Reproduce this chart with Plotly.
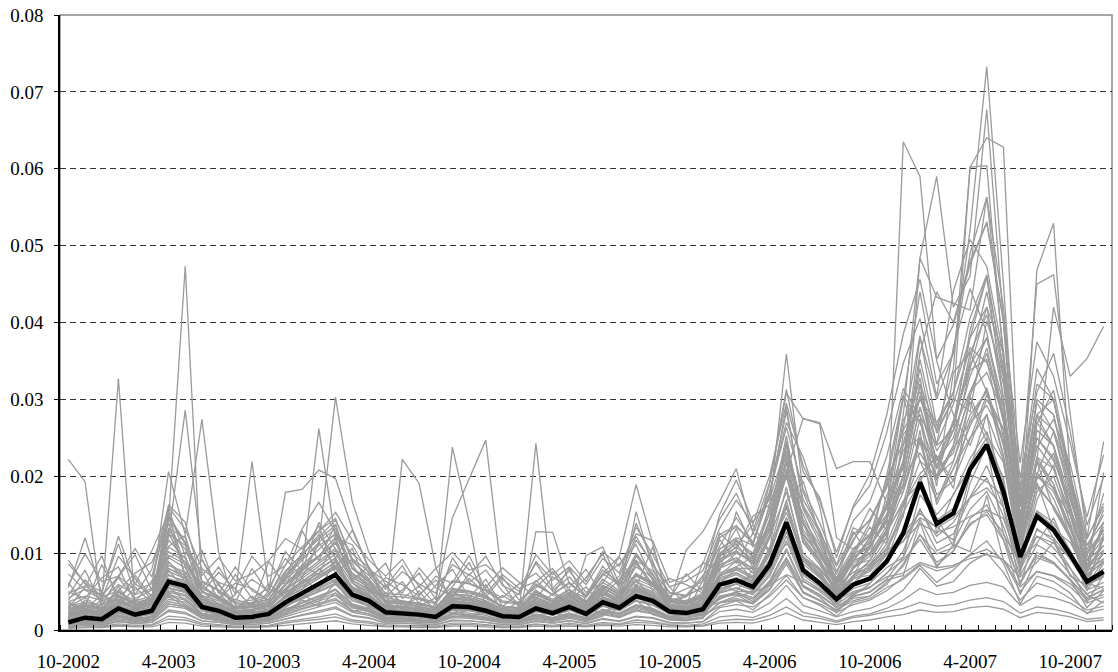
import plotly.graph_objects as go

# Months (categories) from 10-2002 to 12-2007
months = []
for yr in range(2002, 2008):
    for mo in range(1, 13):
        if (yr == 2002 and mo < 10):
            continue
        months.append(f"{mo}-{yr}")
label_months = ["10-2002", "4-2003", "10-2003", "4-2004", "10-2004", "4-2005",
                "10-2005", "4-2006", "10-2006", "4-2007", "10-2007"]

UNIT = 1000.0  # all series values below are given in thousandths

# Mean line (black), in thousandths
mean_line = [1.0, 1.6, 1.4, 2.8, 2.0, 2.5, 6.3, 5.7, 3.0, 2.5,
             1.6, 1.7, 2.1, 3.6, 4.8, 6.0, 7.2, 4.6, 3.8, 2.3,
             2.2, 2.0, 1.7, 3.1, 3.0, 2.5, 1.8, 1.7, 2.8, 2.2,
             3.0, 2.1, 3.6, 2.9, 4.4, 3.8, 2.4, 2.2, 2.7, 5.9,
             6.5, 5.6, 8.5, 14.0, 7.8, 6.1, 4.0, 5.9, 6.7, 8.9,
             12.6, 19.2, 13.8, 15.2, 20.9, 24.1, 18.0, 9.5, 14.8, 13.0,
             9.8, 6.3, 7.6]

# Individual series (gray), in thousandths
gray_01 = [22.2,19.3,3.1,2.4,1.6,2.2,4.8,3.3,1.9,1.4, 1.1,1.3,1.6,2.7,3.2,4.1,5.2,2.9,2.4,1.4, 1.5,1.3,0.9,2.1,1.8,1.6,1.0,1.1,1.9,1.4, 2.2,1.3,2.4,2.1,3.2,2.6,1.4,1.6,2.1,
           4.2,4.6,3.4,5.8,9.3,4.9,3.8,2.6,4.1,4.4,6.2,8.3,12.4,8.8,10.2,14.5,16.3,11.8,6.2,9.7,8.8,6.4,4.1,5.2]
gray_02 = [8.6,6.1,3.6,32.7,2.7,4.1,14.8,8.2,3.2,2.4, 1.5,1.8,2.4,4.5,6.3,7.9,9.4,5.1,4.2,2.2, 2.8,2.3,1.9,3.8,3.5,2.8,2.0,1.8,3.4,2.6, 3.7,2.4,4.3,3.1,5.5,4.6,2.7,2.5,3.3,
           7.4,8.2,6.7,10.4,18.6,9.3,7.5,4.4,7.1,8.3,11.2,16.4,24.8,17.6,19.4,27.3,31.2,22.7,11.3,18.6,16.1,12.4,7.6,9.3]
gray_03 = [3.5,2.9,2.2,4.3,2.6,3.8,14.2,47.3,5.1,3.3, 2.0,2.2,2.6,4.2,5.3,6.8,8.1,5.2,4.4,2.6, 2.4,2.2,1.8,3.4,3.3,2.7,2.1,1.9,3.0,2.4, 3.2,2.3,3.9,3.2,4.8,4.1,2.6,2.4,2.9,
           6,8,7,12,18,10,8,5,8,10,12,63.5,59.0,35,28,24,30,26,8,18,20,14,6,9]
gray_04 = [2.1,3.4,2.6,5.2,3.1,4.0,12.1,28.6,9.2,5.0, 2.4,2.6,3.1,5.3,7.0,8.6,10.3,6.4,5.2,3.1, 2.9,2.7,2.3,4.1,4.0,3.3,2.4,2.2,3.6,2.9, 3.8,2.8,4.6,3.7,5.7,4.8,3.1,2.8,3.5,
           8,10,9,14,24,14,10,6,9,12,16,22,38,30,36,52,73.3,45,14,30,28,18,8,14]
gray_05 = [4.2,5.3,4.6,6.8,4.1,5.2,20.6,12.4,27.4,10.1, 3.2,3.5,4.0,6.6,8.4,10.5,12.6,8.1,6.6,4.2, 3.8,3.5,2.9,5.1,5.0,4.2,3.1,2.9,4.7,3.7, 4.9,3.5,5.8,4.7,7.3,6.2,3.9,3.6,4.4,
           5,6,7,10,16,9,7,4,7,9,13,20,48.4,59.0,42,46,67.7,40,12,26,24,15,6,12]
gray_06 = [1.8,2.3,1.9,3.0,2.4,2.8,7.2,6.1,3.5,2.8, 2.1,2.4,5.1,17.9,18.3,20.8,19.7,13.2,8.1,3.4, 3.0,2.6,2.2,3.8,3.6,3.1,2.3,2.1,3.2,2.7, 3.5,2.5,4.0,3.3,5.0,4.2,2.8,2.6,3.1,
           7,8,8,13,20,12,9,5,8,11,14,24,30,26,34,60.2,64.0,62.8,16,28,30,20,9,13]
gray_07 = [1.2,1.5,1.3,2.2,1.7,2.1,5.4,4.9,2.6,2.1, 1.4,1.5,1.9,3.4,8.1,26.2,11.8,6.2,4.1,2.0, 1.9,1.7,1.5,2.7,2.6,2.2,1.6,1.5,2.5,1.9, 2.6,1.8,3.1,2.5,3.8,3.3,2.1,1.9,2.4,
           4,5,5,9,14,8,6,3.5,6,8,10,16,22,20,24,34,42,30,12,46.8,52.9,20,7,10]
gray_08 = [2.6,3.1,2.8,4.4,3.3,3.9,9.4,8.1,4.5,3.8, 2.5,2.7,3.2,5.4,7.6,11.2,30.3,16.7,10.1,5.8, 3.4,3.0,2.6,4.6,4.5,3.8,2.8,2.6,4.2,3.3, 4.5,3.1,5.4,4.3,6.6,5.7,3.6,3.3,4.0,
           8,9,8,12,21,12,9,6,9,10,13,19,29,21,23,31,36,27,14,22,42,33,35.3,39.5]
gray_09 = [2.9,2.4,3.3,3.9,2.8,3.2,8.8,7.0,4.1,3.0, 4.6,21.9,5.3,4.8,6.2,7.3,8.9,5.6,4.6,2.9, 2.6,2.4,2.0,3.6,3.4,2.9,2.2,2.0,3.3,2.5, 3.4,2.4,4.2,3.4,5.2,4.4,2.8,2.5,3.1,
           6.8,7.5,6.2,9.8,16.2,9.0,7.0,4.6,6.9,7.8,10.4,14.8,26.0,12.5,17.7,21.0,28.1,16.0,8.1,19.2,13.1,11.4,7.3,8.8]
gray_10 = [1.5,1.9,1.6,2.6,2.1,2.4,6.0,5.1,2.9,2.3, 1.6,1.7,2.0,3.5,4.6,5.7,6.9,4.4,3.6,2.2, 22.2,19.1,8.2,3.2,3.0,2.5,1.8,1.7,2.8,2.2, 3.0,2.1,3.6,2.8,4.3,3.7,2.3,2.1,2.6,
           5.7,6.3,5.4,8.2,13.6,7.5,5.9,3.9,5.7,6.5,8.6,12.2,14.6,13.4,11.7,20.2,19.3,17.4,9.2,11.3,14.6,9.5,6.1,5.4]
gray_11 = [0.9,1.2,1.0,1.8,1.4,1.7,4.4,3.9,2.1,1.7, 1.1,1.2,1.5,2.6,3.5,4.3,5.3,3.3,2.7,1.6, 1.6,1.4,3.0,23.8,14.1,2.4,1.3,1.2,2.0,1.6, 2.2,1.5,2.6,2.1,3.2,2.7,1.7,1.6,1.9,
           4.3,4.7,4.0,6.2,10.3,5.7,4.5,2.9,4.3,4.9,6.5,7.1,14.0,8.1,11.1,10.2,17.5,9.1,6.9,8.8,11.5,7.2,4.6,3.5]
gray_12 = [3.1,3.6,3.3,4.9,3.8,4.4,10.2,8.9,5.0,4.2, 2.9,3.1,3.6,5.9,7.3,8.9,10.6,6.8,5.6,3.6, 3.4,3.1,4.2,14.6,19.6,24.7,6.0,2.9,4.6,3.7, 4.8,3.4,5.7,4.6,7.1,6.0,3.8,3.5,4.3,
           9.2,10.3,8.8,13.5,22.4,12.6,9.8,6.4,9.5,10.8,14.2,27.3,31.0,24.2,29.4,36.7,34.8,29.0,11.3,27.8,23.9,15.8,10.1,12.2]
gray_13 = [2.2,2.6,2.3,3.5,2.8,3.2,7.6,6.7,3.8,3.1, 2.2,2.3,2.7,4.4,5.7,7.0,8.3,5.4,4.4,2.7, 2.6,2.4,2.0,3.7,3.5,3.0,2.2,2.4,24.3,5.0, 3.6,2.6,4.3,3.5,5.3,4.5,2.9,2.7,3.3,
           7.1,7.8,6.7,10.2,16.8,9.4,7.3,4.8,7.1,8.1,10.7,15.3,19.4,22.7,18.4,30.4,25.3,21.8,9.5,21.9,15.7,11.9,7.7,9.2]
gray_14 = [1.4,1.7,1.5,2.4,1.9,2.2,5.5,5.0,2.7,2.2, 1.5,1.6,1.9,3.2,4.3,5.3,6.4,4.1,3.4,2.0, 2.0,1.8,1.5,2.8,2.7,2.3,1.7,1.5,12.8,12.7, 6.0,4.4,7.3,9.6,18.9,11.2,3.3,2.0,2.5,
           5.4,6.0,5.1,7.7,12.8,7.1,5.6,3.7,5.4,6.1,8.1,9.5,17.6,14.6,10.9,19.1,24.0,12.4,8.7,15.5,11.9,7.0,5.8,7.0]
gray_15 = [0.7,0.9,0.8,1.3,1.0,1.2,3.1,2.8,1.5,1.2, 0.8,0.9,1.1,1.8,2.4,3.0,3.6,2.3,1.9,1.1, 1.1,1.0,0.9,1.6,1.5,1.3,0.9,0.9,1.4,1.1, 1.5,1.1,1.8,4.5,15.4,8.0,3.5,10.4,12.8,
           16.7,21.0,12.5,18.0,27.0,22.5,16.0,5.0,9.0,12.0,15.0,22.0,34.0,24.0,26.0,36.0,41.0,32.0,14.0,25.0,22.0,17.0,10.0,13.0]
gray_16 = [3.0,4.2,2.8,5.0,3.4,4.1,15.8,9.6,4.0,3.3, 2.2,2.5,3.4,6.8,9.1,11.4,13.2,7.0,5.5,2.9, 3.0,2.7,2.2,4.6,4.2,3.5,2.3,2.1,4.0,3.1, 4.4,3.0,5.5,4.2,9.8,6.5,3.1,2.9,4.0,
           9.8,11.2,8.6,14.4,25.3,13.8,10.2,5.3,9.0,11.6,15.8,21.3,32.0,19.6,24.0,30.5,36.7,27.4,12.0,22.5,19.0,13.2,7.5,11.8]
gray_17 = [1.9,2.6,2.0,3.8,2.9,3.5,14.5,11.2,3.7,2.9, 1.9,2.0,2.6,5.9,8.3,9.6,12.1,6.1,4.7,2.4, 2.5,2.3,1.9,4.0,3.8,3.2,2.0,1.9,3.6,2.7, 3.9,2.6,4.8,3.6,8.8,5.9,2.8,2.6,3.6,
           8.4,9.3,7.4,12.5,22.0,11.4,8.5,4.9,8.0,9.6,12.8,18.0,27.5,16.3,21.0,26.5,31.5,24.2,11.0,20.5,17.1,12.0,6.7,10.1]
gray_18 = [4.8,5.7,4.4,7.0,5.2,6.0,16.3,14.0,6.2,5.1, 3.4,3.6,4.4,8.5,10.8,12.9,14.5,8.9,7.1,4.4, 4.3,4.0,3.4,6.3,6.0,5.1,3.6,3.4,6.0,4.6, 6.2,4.4,7.8,6.1,11.7,8.7,4.8,4.4,5.6,
           12.4,13.6,11.2,17.6,28.4,17.0,13.0,7.6,11.8,14.4,18.6,26.2,38.3,26.5,30.8,40.6,46.2,33.6,16.4,29.6,25.8,17.4,10.4,15.6]
gray_19 = [5.5,12.0,4.8,12.2,6.0,4.5,13.0,10.5,5.6,4.4, 3.0,3.4,4.0,7.2,9.4,11.0,12.4,8.0,6.2,3.8, 3.7,3.5,2.9,5.4,5.1,4.5,3.0,2.8,5.0,4.0, 5.3,3.7,6.6,5.1,9.6,7.3,4.1,3.8,4.8,
           10.5,11.8,9.4,15.2,20.4,14.4,11.0,6.5,10.2,12.3,16.0,22.0,30.4,23.3,26.8,34.5,38.0,29.4,14.5,25.0,22.4,15.6,9.0,13.4]
gray_20 = [0.5,0.8,0.6,1.1,0.8,1.0,2.6,2.3,1.2,1.0, 0.7,0.7,0.9,1.5,2.0,2.5,3.0,1.9,1.6,0.9, 0.9,0.8,0.7,1.3,1.2,1.0,0.7,0.7,1.2,0.9, 1.2,0.9,1.5,1.2,1.8,1.6,1.0,0.9,1.1,
           2.4,2.7,2.3,3.5,5.8,3.2,2.5,1.7,2.4,2.8,3.7,5.2,8.0,5.7,6.3,8.7,10.0,7.5,3.9,6.1,5.4,4.1,2.6,3.1]
gray_21 = [1.1,1.4,1.2,2.0,1.5,1.8,4.6,4.1,2.2,1.8, 1.2,1.3,1.6,2.7,3.6,4.4,5.3,3.4,2.8,1.7, 1.7,1.5,1.3,2.3,2.2,1.9,1.3,1.3,2.1,1.6, 2.2,1.6,2.7,2.2,3.3,2.8,1.8,1.6,2.0,
           4.4,4.9,4.2,6.4,10.6,5.8,4.6,3.0,4.4,5.0,6.6,9.4,14.4,10.3,11.4,15.7,18.0,13.5,7.1,11.1,9.8,7.3,4.7,5.7]
gray_22 = [2.4,2.0,2.7,3.1,2.2,2.6,5.8,5.2,3.0,2.4, 1.7,1.8,2.2,3.7,4.9,6.1,7.4,4.8,3.9,2.4, 2.3,2.1,1.8,3.2,3.1,2.6,1.9,1.8,2.9,2.3, 3.1,2.2,3.7,3.0,4.6,3.9,2.5,2.3,2.8,
           6.1,6.8,5.8,8.8,14.6,8.1,6.3,4.2,6.1,6.9,9.2,13.0,19.9,14.3,15.8,21.6,25.0,18.7,9.8,15.3,13.5,10.1,6.5,7.9]
gray_23 = [0.3,0.4,0.4,0.6,0.5,0.6,1.4,1.3,0.7,0.6, 0.4,0.4,0.5,0.9,1.2,1.4,1.7,1.1,0.9,0.5, 0.5,0.5,0.4,0.7,0.7,0.6,0.4,0.4,0.7,0.5, 0.7,0.5,0.8,0.7,1.0,0.9,0.6,0.5,0.6,
           1.2,1.4,1.3,1.9,3.0,1.8,1.5,1.0,1.6,1.9,2.4,2.8,3.6,3.1,3.3,3.9,4.2,3.7,2.2,3.0,2.7,2.2,1.4,1.6]
gray_24 = [1.7,2.2,1.8,2.9,2.3,2.6,6.3,5.6,3.2,2.6, 1.8,1.9,2.3,3.9,5.0,6.2,7.4,4.9,4.0,2.4, 2.4,2.2,1.9,3.3,3.2,2.7,1.9,1.8,3.0,2.4, 3.2,2.3,3.8,3.1,4.7,4.0,2.6,2.4,2.9,
           3.6,4.4,4.9,5.8,7.2,6.3,5.2,3.8,5.0,5.6,6.9,7.4,8.8,8.1,8.4,9.3,9.8,9.2,5.6,7.6,7.1,6.0,3.9,4.6]
gray_25 = [0.8,1.0,0.9,1.5,1.1,1.3,3.4,3.0,1.6,1.3, 0.9,1.0,1.2,2.0,2.7,3.3,3.9,2.5,2.1,1.2, 1.2,1.1,1.0,1.7,1.7,1.4,1.0,0.9,1.6,1.2, 1.7,1.2,2.0,1.6,2.5,2.1,1.3,1.2,1.5,
           5.2,6.4,7.0,8.6,11.2,9.4,7.8,5.6,7.5,8.6,10.4,11.6,13.8,12.7,13.4,14.8,15.6,14.5,8.4,12.2,11.3,9.4,6.0,7.2]
gray_26 = [2.0,2.5,2.1,3.3,2.6,3.0,7.1,6.4,3.6,3.0, 2.1,2.2,2.6,4.4,5.7,7.0,8.4,5.5,4.5,2.8, 2.7,2.5,2.1,3.7,3.6,3.1,2.2,2.0,3.4,2.7, 3.6,2.6,4.3,3.5,5.3,4.5,2.9,2.7,3.3,
           7.0,8.2,9.5,14.0,20.5,27.5,27.0,21.0,21.9,21.9,16.5,18.0,25.0,20.0,22.0,28.0,31.0,24.0,12.0,20.0,18.0,13.0,8.0,10.0]
gray_27 = [1.6,2.0,1.7,2.7,2.1,2.5,5.9,5.3,3.0,2.4, 1.7,1.8,2.2,3.7,4.8,5.9,7.1,4.6,3.8,2.3, 2.2,2.0,1.8,3.1,3.0,2.6,1.8,1.7,2.9,2.2, 3.0,2.2,3.6,2.9,4.4,3.8,2.4,2.2,2.7,
           9.0,11.5,10.0,16.0,35.9,18.0,12.5,6.0,9.5,11.0,14.5,20.0,30.5,22.0,25.0,33.0,38.0,28.0,13.0,24.0,21.0,15.0,9.0,12.0]
gray_28 = [2.3,2.8,2.4,3.7,2.9,3.4,8.0,7.1,4.0,3.3, 2.3,2.5,2.9,4.9,6.3,7.8,9.3,6.1,5.0,3.1, 3.0,2.7,2.3,4.1,4.0,3.4,2.5,2.3,3.8,3.0, 4.0,2.9,4.8,3.9,5.9,5.0,3.2,3.0,3.6,
           10.5,12.0,11.0,19.0,30.8,27.5,26.8,12.0,10.5,12.5,16.0,30.5,27.0,21.0,26.0,39.0,46.0,34.0,15.0,27.0,24.0,17.0,10.0,13.0]
gray_29 = [1.3,1.6,1.4,2.2,1.8,2.0,4.9,4.4,2.5,2.0, 1.4,1.5,1.8,3.1,4.0,4.9,5.9,3.8,3.1,1.9, 1.8,1.7,1.4,2.6,2.5,2.1,1.5,1.4,2.4,1.9, 2.5,9.7,10.8,6.0,13.9,9.0,2.0,1.8,2.2,
           4.8,5.4,4.6,7.0,11.6,6.4,5.0,3.3,4.8,5.5,7.3,10.3,15.8,11.3,12.5,17.2,19.8,14.8,7.8,12.2,10.7,8.0,5.2,6.2]
gray_30 = [1.0,1.3,1.1,1.8,1.4,1.6,4.0,3.6,2.0,1.6, 1.1,1.2,1.4,2.5,3.2,4.0,4.8,3.1,2.5,1.5, 1.5,1.3,1.2,2.1,2.0,1.7,1.2,1.1,1.9,1.5, 2.0,1.4,2.4,2.0,3.0,2.5,1.6,2.0,6.5,
           15.0,19.5,14.0,17.0,24.0,16.0,12.0,6.0,10.0,14.0,19.0,30.0,44.0,32.0,36.0,49.0,56.3,42.0,18.0,34.0,30.0,20.0,11.0,15.0]
gray_31 = [2.8,3.4,2.9,4.5,3.6,4.1,9.7,8.6,4.9,4.0, 2.8,3.0,3.6,6.0,7.7,9.5,11.3,7.4,6.0,3.7, 3.6,3.3,2.8,5.0,4.8,4.1,3.0,2.8,4.6,3.6, 4.8,3.5,5.8,4.7,7.2,6.1,3.9,3.6,4.4,
           9.6,10.7,9.2,14.0,23.3,13.0,10.2,6.6,9.8,11.3,16.0,28.0,48.4,43.3,42.5,41.6,56.3,36.0,16.0,30.0,28.0,19.0,11.0,14.0]
gray_32 = [1.5,1.8,1.6,2.5,2.0,2.3,5.5,4.9,2.8,2.3, 1.6,1.7,2.0,3.4,4.5,5.5,6.6,4.3,3.5,2.1, 2.1,1.9,1.6,2.9,2.8,2.4,1.7,1.6,2.7,2.1, 2.8,2.0,3.3,2.7,4.1,3.5,2.2,2.0,2.5,
           5.3,6.0,5.2,8.0,13.4,7.4,5.8,3.8,6.0,8.5,12.0,20.0,32.0,26.0,30.0,60.2,60.4,35.0,14.0,26.0,24.0,15.0,8.0,11.0]
gray_33 = [2.5,3.0,2.6,4.0,3.1,3.6,8.4,7.5,4.3,3.5, 2.4,2.6,3.1,5.2,6.7,8.3,9.9,6.5,5.3,3.2, 3.1,2.9,2.4,4.3,4.2,3.6,2.6,2.4,4.0,3.2, 4.2,3.0,5.0,4.1,6.3,5.3,3.4,3.1,3.8,
           8.5,9.4,8.0,12.2,20.4,11.4,8.9,5.8,8.7,10.0,13.5,19.0,29.0,22.0,27.0,35.0,44.0,33.0,18.0,45.0,46.2,28.0,12.0,16.0]
gray_34 = [1.9,2.3,2.0,3.1,2.5,2.8,6.7,6.0,3.4,2.8, 2.0,2.1,2.5,4.2,5.4,6.7,8.0,5.2,4.3,2.6, 2.6,2.4,2.0,3.5,3.4,2.9,2.1,1.9,3.2,2.6, 3.4,2.4,4.0,3.3,5.0,4.3,2.7,2.5,3.1,
           6.6,7.4,6.4,9.8,16.3,9.1,7.1,4.7,7.0,9.0,13.0,22.0,36.0,44.0,40.0,48.0,52.9,40.0,17.0,32.0,30.0,19.0,10.0,13.0]
gray_35 = [3.7,4.4,3.9,5.9,4.6,5.4,12.5,11.0,6.4,5.2, 3.6,3.9,4.6,7.7,9.8,12.1,14.3,9.3,7.6,4.7, 4.6,4.2,3.6,6.4,6.1,5.2,3.8,3.5,5.8,4.6, 6.1,4.4,7.3,5.9,9.0,7.7,4.9,4.5,5.5,
           12.0,13.4,11.4,17.5,29.0,16.2,12.7,8.3,12.4,14.2,18.5,26.0,30.0,27.0,31.0,38.0,42.0,36.0,16.0,28.0,26.0,20.0,12.0,24.5]
gray_36 = [0.4,0.6,0.5,0.8,0.6,0.7,1.8,1.6,0.9,0.7, 0.5,0.5,0.6,1.1,1.4,1.7,2.1,1.3,1.1,0.7, 0.6,0.6,0.5,0.9,0.9,0.7,0.5,0.5,0.8,0.6, 0.9,0.6,1.0,0.8,1.3,1.1,0.7,0.6,0.8,
           1.7,1.9,1.6,2.5,4.1,2.3,1.8,1.2,1.8,2.1,2.8,3.9,5.4,4.6,4.9,5.8,6.2,5.6,3.2,4.5,4.2,3.5,2.2,2.7]
gray_37 = [1.3,1.0,1.5,1.9,1.2,1.6,3.7,3.2,1.9,1.5, 1.0,1.1,1.3,2.3,3.0,3.8,4.5,2.9,2.4,1.5, 1.4,1.3,1.1,2.0,1.9,1.6,1.2,1.1,1.8,1.4, 1.9,1.4,2.3,1.8,2.8,2.4,1.5,1.4,1.7,
           3.6,4.1,3.5,5.4,9.0,5.0,3.9,2.6,3.8,4.4,5.9,8.6,12.4,9.9,10.7,13.6,15.4,12.6,6.0,10.1,8.8,6.6,4.2,5.3]
gray_38 = [0.6,0.8,0.7,1.1,0.9,1.0,2.4,2.1,1.2,1.0, 0.7,0.7,0.9,1.4,1.9,2.3,2.8,1.8,1.5,0.9, 0.9,0.8,0.7,1.2,1.2,1.0,0.7,0.7,1.1,0.9, 1.2,0.8,1.4,1.1,1.7,1.5,0.9,0.9,1.1,
           2.9,3.3,3.0,4.4,6.5,4.2,3.4,2.3,3.3,3.9,5.1,6.8,8.6,7.7,8.2,9.7,10.5,9.1,5.0,7.6,7.0,5.6,3.5,4.3]
gray_39 = [3.3,2.7,3.8,4.6,3.2,3.9,13.2,12.0,5.5,4.2, 2.9,3.2,3.8,7.5,9.9,11.8,13.6,8.0,6.4,3.8, 3.8,3.4,2.9,5.3,5.0,4.3,3.0,2.9,4.9,3.8, 5.2,3.6,6.2,4.9,8.2,6.8,4.0,3.7,4.6,
           10.0,11.6,9.6,15.4,24.2,14.0,10.5,6.8,10.6,12.2,16.5,23.4,25.0,21.4,26.0,31.0,33.5,28.0,13.0,22.5,21.0,15.0,9.0,11.0]
gray_40 = [1.4,1.8,1.5,2.4,1.9,2.2,5.1,4.6,2.6,2.1, 1.5,1.6,1.9,3.2,4.1,5.1,6.1,3.9,3.2,2.0, 1.9,1.8,1.5,2.7,2.6,2.2,1.6,1.5,2.5,2.0, 2.6,1.9,3.1,2.5,3.8,3.2,2.1,1.9,2.3,
           4.9,5.5,4.8,7.3,12.2,6.7,5.3,3.5,7.0,11.0,20.0,30.5,22.0,17.0,21.0,25.0,28.0,22.0,10.0,19.0,16.0,12.0,7.0,9.0]
gray_41 = [2.1,1.7,2.4,2.9,2.0,2.4,8.0,6.8,3.4,2.7, 1.8,2.0,2.4,4.6,6.0,7.4,8.8,5.4,4.3,2.5, 2.5,2.2,1.9,3.4,3.2,2.7,1.9,1.8,3.1,2.4, 3.3,2.3,3.9,3.1,5.6,4.5,2.6,2.4,2.9,
           6.4,7.2,6.0,9.2,14.6,8.6,6.8,4.4,6.6,7.6,9.9,12.5,15.2,13.3,14.6,17.2,18.5,16.0,8.2,13.0,12.0,9.2,5.9,6.9]
gray_42 = [0.9,1.1,1.0,1.6,1.2,1.4,3.4,3.0,1.7,1.4, 1.0,1.0,1.2,2.1,2.8,3.4,4.1,2.6,2.1,1.3, 1.3,1.2,1.0,1.8,1.7,1.5,1.0,1.0,1.6,1.3, 1.7,1.2,2.1,1.7,2.6,2.2,1.4,1.3,1.6,
           3.5,3.9,3.4,5.2,8.6,4.8,3.8,2.5,4.5,6.0,9.0,15.0,25.0,20.0,27.0,38.0,45.9,30.0,10.0,22.0,19.0,12.0,6.0,8.0]
gray_43 = [0.2,0.3,0.3,0.5,0.4,0.4,1.0,0.9,0.5,0.4, 0.3,0.3,0.4,0.6,0.8,1.0,1.2,0.8,0.6,0.4, 0.4,0.3,0.3,0.5,0.5,0.4,0.3,0.3,0.5,0.4, 0.5,0.4,0.6,0.5,0.7,0.6,0.4,0.4,0.5,
           0.9,1.0,0.9,1.4,2.2,1.3,1.0,0.7,1.1,1.3,1.7,2.0,2.6,2.3,2.4,2.9,3.1,2.7,1.6,2.3,2.1,1.7,1.1,1.3]
gray_44 = [2.7,3.2,2.8,4.3,3.4,3.9,10.8,9.4,5.0,4.0, 2.7,2.9,3.4,6.0,7.9,9.6,11.4,7.2,5.8,3.5, 3.4,3.1,2.6,4.7,4.5,3.8,2.7,2.6,4.3,3.4, 4.6,3.2,5.4,4.4,7.0,5.9,3.7,3.4,4.2,
           8.9,10.2,8.6,13.4,21.7,12.4,9.6,6.2,9.4,10.9,14.3,20.2,23.0,19.5,23.6,27.0,29.2,25.0,11.5,20.0,18.5,13.5,8.3,10.4]
gray_45 = [4.5,7.8,3.2,6.9,9.8,5.1,12.6,8.4,6.0,3.9, 7.2,4.1,5.5,9.3,6.8,11.4,8.2,10.6,5.0,4.4, 6.3,3.5,5.8,7.9,4.2,6.6,3.1,4.8,8.7,5.4, 7.7,4.9,6.1,9.5,5.6,10.8,3.8,4.5,7.1,
           9.4,13.2,8.0,16.5,19.8,15.1,10.2,6.4,12.8,9.7,17.5,21.0,35.2,25.6,30.1,28.4,40.2,33.0,13.5,26.8,31.2,20.4,9.5,17.8]
gray_46 = [6.2,3.1,8.5,4.4,5.9,10.3,15.2,6.7,9.1,5.8, 3.6,8.0,4.7,6.3,12.9,9.0,13.8,6.5,8.3,3.7, 5.2,7.4,4.0,5.6,8.8,4.3,6.9,3.9,5.5,7.6, 4.6,6.8,9.9,5.3,8.6,6.0,4.1,7.3,5.0,
           11.8,8.7,12.6,10.4,24.6,13.9,8.8,5.1,9.6,13.4,11.2,25.5,28.0,18.7,33.5,36.1,31.0,22.4,12.1,19.6,23.0,16.2,7.8,20.5]
gray_47 = [2.8,5.6,9.7,3.5,7.1,4.2,10.9,12.3,4.8,7.5, 5.3,3.0,8.9,5.8,10.1,13.6,7.4,9.2,6.6,8.7, 4.1,5.7,3.3,9.4,6.2,7.8,5.0,3.4,6.4,4.5, 8.1,3.7,5.2,7.0,12.2,8.4,5.6,3.2,8.8,
           7.6,15.4,10.8,13.1,20.2,11.6,9.3,4.3,8.1,10.6,14.9,18.6,24.4,16.8,21.9,29.7,24.5,19.8,7.4,16.9,21.5,13.8,5.4,12.6]
gray_48 = [5.0,4.1,6.8,8.2,3.6,6.4,9.5,10.1,7.7,4.0, 6.1,5.4,3.8,4.9,8.5,7.2,12.0,11.1,7.3,5.6, 8.4,4.6,6.5,4.3,7.3,5.5,8.1,6.2,4.0,6.9, 5.5,7.9,4.4,6.6,9.1,5.2,6.7,5.9,4.8,
           8.7,10.9,13.7,9.9,16.8,19.4,12.3,7.6,11.5,15.8,13.0,16.4,20.3,22.6,19.4,24.8,30.6,26.2,11.0,22.1,18.3,14.9,8.6,10.3]
gray_49 = [1.8,3.9,2.5,5.7,2.2,4.6,7.8,5.2,3.3,6.1, 2.7,4.4,2.0,3.6,6.7,5.1,9.2,4.3,3.0,4.9, 2.6,5.1,2.3,4.0,3.1,5.9,2.4,3.7,2.9,4.7, 3.4,2.1,5.3,3.6,6.5,4.2,2.5,3.9,3.0,
           6.2,5.0,7.9,8.4,12.7,7.3,5.9,2.9,6.8,7.1,9.8,11.5,15.6,12.2,14.0,17.3,21.4,15.9,5.8,13.2,11.6,8.1,3.6,7.2]
gray_50 = [3.7,2.4,4.8,3.0,5.6,3.5,8.9,6.3,4.4,2.9, 4.0,3.2,6.0,4.2,5.3,8.0,6.1,5.7,3.4,5.9, 3.0,4.3,2.7,5.0,3.8,2.8,4.5,3.2,5.2,3.6, 4.0,5.6,3.1,4.5,7.4,5.8,3.3,2.6,4.1,
           7.1,9.0,6.5,10.8,15.3,9.6,7.8,3.9,8.4,9.1,12.6,16.8,19.1,15.0,17.5,22.3,25.8,19.2,8.3,15.5,14.0,10.4,5.1,8.7]
gray_51 = [7.3,5.2,4.0,9.6,6.7,3.8,11.7,9.3,5.4,8.2, 4.7,6.6,5.0,10.2,7.7,14.0,10.5,8.6,4.9,6.8, 5.9,4.4,7.0,6.1,9.7,5.3,4.2,6.0,7.4,5.1, 6.9,4.5,8.3,5.7,10.0,7.1,4.4,5.3,6.3,
           10.9,14.6,11.4,17.8,26.4,18.3,13.9,8.5,14.2,16.7,22.5,31.4,27.8,24.0,36.8,44.4,38.7,27.5,15.0,23.7,27.4,21.6,11.8,16.5]
gray_52 = [2.2,1.5,3.0,2.6,4.1,1.9,5.6,3.8,2.7,1.8, 3.1,2.3,1.6,2.9,4.5,3.6,6.2,3.3,2.5,1.9, 2.8,1.7,3.4,2.1,2.6,3.7,1.6,2.4,3.5,2.0, 2.6,3.3,1.9,2.8,4.6,2.7,1.7,2.2,2.9,
           4.0,4.9,3.7,6.1,9.4,5.6,4.3,2.2,4.7,5.5,7.4,9.1,11.8,8.4,10.3,13.9,15.0,11.7,4.6,9.4,8.6,6.5,2.9,5.1]
gray_53 = [9.1,6.0,5.0,11.2,4.6,7.9,16.0,13.1,8.0,6.2, 5.4,9.6,7.0,8.4,13.2,16.6,12.7,9.9,8.1,5.3, 7.6,6.0,4.8,8.5,7.1,9.6,5.8,4.6,8.9,6.5, 8.2,5.9,9.3,7.4,13.4,9.8,5.6,6.4,7.7,
           13.2,16.9,13.8,20.1,29.5,21.4,16.8,10.1,15.9,18.8,25.6,34.7,40.5,30.4,44.1,50.8,47.3,35.6,19.8,30.9,36.0,25.8,13.6,19.9]
gray_54 = [3.9,6.5,4.3,5.1,7.4,8.8,13.9,7.2,10.4,4.7, 8.2,5.1,3.9,6.9,9.6,12.4,9.4,13.0,7.9,6.4, 4.8,8.1,5.5,4.4,6.7,4.7,7.2,5.4,6.3,8.0, 5.1,4.2,7.1,8.6,11.1,6.6,3.7,4.3,6.8,
           12.6,10.5,14.8,16.3,22.8,15.7,11.4,7.2,13.3,12.1,19.7,24.3,32.8,21.2,27.3,33.8,35.2,24.9,10.9,20.2,25.8,18.4,8.1,14.1]
gray_55 = [1.2,2.8,1.6,3.3,1.5,2.6,4.4,3.0,1.9,3.2, 1.4,2.5,1.8,2.2,3.9,3.1,4.8,2.4,2.9,1.5, 2.0,2.9,1.5,2.6,1.8,2.4,1.3,2.7,1.9,2.3, 1.6,2.8,2.1,3.3,3.9,2.0,1.4,2.5,1.8,
           3.1,3.8,2.6,4.7,7.1,4.2,3.2,1.8,3.6,4.1,5.5,6.6,8.4,6.2,7.8,9.9,11.6,8.7,3.4,7.0,6.3,4.8,2.1,3.8]
gray_56 = [5.8,9.9,6.3,7.0,10.6,6.9,14.9,11.4,7.1,9.4, 6.4,7.3,9.0,11.9,10.5,12.8,15.3,11.7,9.1,7.0, 9.2,5.6,8.0,10.1,7.8,8.5,6.6,5.0,9.8,7.2, 9.0,6.3,10.2,8.3,12.5,11.6,6.2,7.0,8.6,
           14.4,17.8,12.9,19.2,31.3,20.6,17.2,9.4,16.1,20.3,27.9,38.5,45.6,35.2,39.7,47.5,53.1,40.4,21.7,37.5,33.0,24.3,14.7,22.8]

gray_series = [gray_01, gray_02, gray_03, gray_04, gray_05, gray_06, gray_07, gray_08,
               gray_09, gray_10, gray_11, gray_12, gray_13, gray_14, gray_15, gray_16,
               gray_17, gray_18, gray_19, gray_20, gray_21, gray_22, gray_23, gray_24,
               gray_25, gray_26, gray_27, gray_28, gray_29, gray_30, gray_31, gray_32,
               gray_33, gray_34, gray_35, gray_36, gray_37, gray_38, gray_39, gray_40,
               gray_41, gray_42, gray_43, gray_44, gray_45, gray_46, gray_47, gray_48,
               gray_49, gray_50, gray_51, gray_52, gray_53, gray_54, gray_55, gray_56]

for k, s in enumerate(gray_series):
    assert len(s) == len(months), (k + 1, len(s))
assert len(mean_line) == len(months)

x_idx = list(range(len(months)))
FONT = "Liberation Serif"

fig = go.Figure()
for s in gray_series:
    fig.add_trace(go.Scatter(x=x_idx, y=[v / UNIT for v in s], mode="lines",
                             line=dict(color="#9b9b9b", width=1.3),
                             hoverinfo="skip", showlegend=False))
fig.add_trace(go.Scatter(x=x_idx, y=[v / UNIT for v in mean_line], mode="lines",
                         line=dict(color="#000000", width=4.5),
                         hoverinfo="skip", showlegend=False))

fig.add_shape(type="rect", xref="paper", yref="paper", x0=0, y0=0, x1=1, y1=1,
              line=dict(color="#8a8a8a", width=1.5), layer="below")

fig.update_layout(
    width=1118, height=672,
    margin=dict(l=60, r=6, t=15, b=42, autoexpand=False),
    paper_bgcolor="white", plot_bgcolor="white",
    font=dict(family=FONT, size=19, color="black"),
    showlegend=False,
    hovermode=False,
)
fig.update_xaxes(
    range=[-0.5, len(months) - 0.5],
    tickmode="array",
    tickvals=[months.index(m) for m in label_months],
    ticktext=label_months,
    ticks="",
    showgrid=False, zeroline=False,
    showline=True, linecolor="black", linewidth=1.5,
    ticklabelstandoff=13,
    automargin=False,
    minor=dict(ticks="inside", tick0=-0.5, dtick=1, ticklen=5,
               tickcolor="black", tickwidth=1, showgrid=False),
)
fig.update_yaxes(
    range=[0, 0.08], dtick=0.01, tick0=0,
    ticks="outside", ticklen=4, tickcolor="black",
    showgrid=True, gridcolor="#333333", gridwidth=1, griddash="6px,4px",
    zeroline=False,
    showline=True, linecolor="black", linewidth=1.5,
    ticklabelstandoff=7,
    ticklabeloverflow="allow",
    automargin=False,
)

# remove the page's default body margin so the figure fills the window exactly
fig.write_html("out.html", config={"displayModeBar": False},
               post_script="document.body.style.margin='0';")
